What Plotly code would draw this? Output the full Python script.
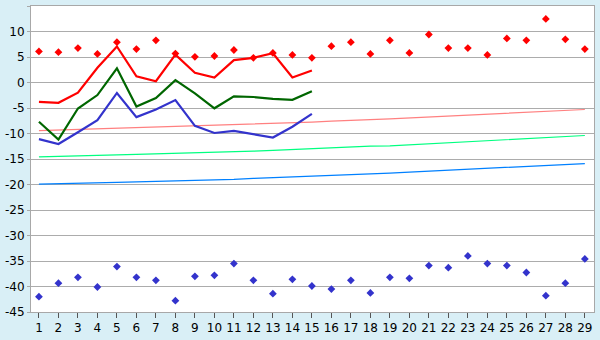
import plotly.graph_objects as go

x_all = list(range(1, 30))
x_line = list(range(1, 16))

red_dots = [6.1, 5.95, 6.75, 5.6, 7.9, 6.55, 8.27, 5.67, 5.03, 5.2, 6.37, 4.84, 5.79, 5.41, 4.84,
            7.12, 7.9, 5.6, 8.27, 5.79, 9.41, 6.75, 6.75, 5.41, 8.65, 8.27, 12.46, 8.46, 6.56]
blue_dots = [-42.0, -39.35, -38.2, -40.1, -36.1, -38.2, -38.78, -42.78, -38.0, -37.8, -35.5, -38.78,
             -41.4, -38.6, -39.9, -40.5, -38.78, -41.25, -38.2, -38.4, -35.9, -36.3, -34.0, -35.5,
             -35.9, -37.25, -41.8, -39.35, -34.6]

red_line = [-3.8, -3.98, -2.0, 2.9, 7.06, 1.22, 0.25, 5.45, 1.9, 0.97, 4.4, 4.84, 5.73, 0.97, 2.37]
green_line = [-7.7, -11.2, -5.1, -2.46, 2.78, -4.72, -3.05, 0.45, -2.14, -5.06, -2.71, -2.84, -3.21, -3.4, -1.7]
blue_line = [-11.1, -12.05, -9.76, -7.4, -2.05, -6.78, -5.3, -3.45, -8.5, -9.9, -9.5, -10.08, -10.78, -8.68, -6.14]

trend_salmon = [-9.44, -9.32, -9.23, -9.15, -9.02, -8.92, -8.81, -8.70, -8.58, -8.37, -8.28, -8.14, -7.99,
                -7.90, -7.76, -7.57, -7.38, -7.29, -7.15, -6.96, -6.77, -6.62, -6.43, -6.24, -6.05,
                -5.86, -5.67, -5.48, -5.29]
trend_green = [-14.58, -14.52, -14.39, -14.30, -14.20, -14.10, -14.01, -13.88, -13.80, -13.72, -13.57,
               -13.46, -13.29, -13.10, -12.94, -12.85, -12.62, -12.47, -12.43, -12.24, -12.05, -11.86,
               -11.67, -11.48, -11.29, -11.0, -10.81, -10.62, -10.39]
trend_blue = [-19.91, -19.86, -19.78, -19.67, -19.57, -19.48, -19.40, -19.32, -19.29, -19.10, -19.0,
              -18.81, -18.68, -18.52, -18.37, -18.26, -18.12, -17.95, -17.76, -17.57, -17.38, -17.19,
              -17.0, -16.81, -16.66, -16.49, -16.30, -16.11, -15.90]

y_tickvals = [15, 10, 5, 0, -5, -10, -15, -20, -25, -30, -35, -40, -45]
y_ticktext = ["15", "10", "5", "0", "-5", "-10", "-15", "-20", "-25", "-30", "-35", "-40", "-45"]

fig = go.Figure()

for vals, col in [(trend_salmon, "#ff8080"), (trend_green, "#00ff80"), (trend_blue, "#0080ff")]:
    fig.add_trace(go.Scatter(x=x_all, y=vals, mode="lines", line=dict(color=col, width=1.2),
                             hoverinfo="skip"))

for vals, col in [(red_line, "#ff0000"), (green_line, "#006600"), (blue_line, "#3333cc")]:
    fig.add_trace(go.Scatter(x=x_line, y=vals, mode="lines", line=dict(color=col, width=2.2)))

fig.add_trace(go.Scatter(x=x_all, y=red_dots, mode="markers",
                         marker=dict(symbol="diamond", size=6, color="#ff0000")))
fig.add_trace(go.Scatter(x=x_all, y=blue_dots, mode="markers",
                         marker=dict(symbol="diamond", size=6, color="#3333cc")))

fig.update_layout(
    width=600, height=340,
    margin=dict(l=27, r=5, t=5, b=20),
    paper_bgcolor="#d9eff6",
    plot_bgcolor="#ffffff",
    showlegend=False,
    font=dict(family="DejaVu Sans", size=12, color="#000000"),
)
fig.update_xaxes(
    range=[0.593, 29.47], tickmode="array", tickvals=x_all, ticktext=[str(v) for v in x_all],
    showgrid=False, zeroline=False, showline=True, linecolor="#a8a8a8", linewidth=1, mirror=True,
    ticks="outside", ticklen=5, tickcolor="#555555", tickfont=dict(size=12),
)
fig.update_yaxes(
    range=[-45, 15], tickmode="array", tickvals=y_tickvals, ticktext=y_ticktext,
    showgrid=True, gridcolor="#acacac", gridwidth=1, zeroline=False,
    showline=True, linecolor="#a8a8a8", linewidth=1, mirror=True,
    ticks="outside", ticklen=3, tickcolor="#a8a8a8", tickfont=dict(size=12),
)

fig.write_html("out.html")
